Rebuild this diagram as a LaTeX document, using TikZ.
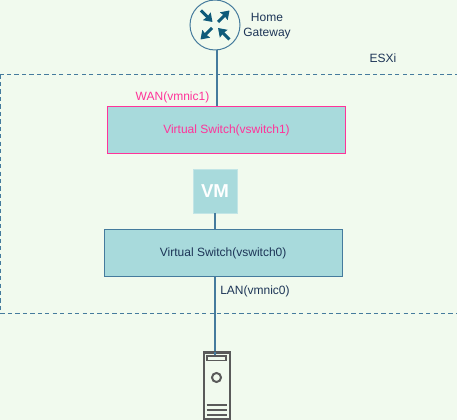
\documentclass[tikz,border=0pt]{standalone}
\usepackage{fontspec}
\setmainfont{Liberation Sans}
\definecolor{bgGreen}{HTML}{F1FAEE}
\definecolor{boxTeal}{HTML}{A8DADC}
\definecolor{lineBlue}{HTML}{457B9D}
\definecolor{textNavy}{HTML}{1D3557}
\definecolor{hotPink}{HTML}{FF3399}
\definecolor{iconBlue}{HTML}{0F5B7A}
\definecolor{serverGray}{HTML}{5A5A5A}
\tikzset{
  switchbox/.style={draw=lineBlue,fill=boxTeal,line width=0.75pt,minimum width=178.5pt,minimum height=35.5pt,inner sep=0pt,text=textNavy,font=\fontsize{9}{11}\selectfont},
  label/.style={text=textNavy,inner sep=0pt,align=center,font=\fontsize{9}{11}\selectfont},
  link/.style={draw=lineBlue,line width=1.5pt},
  routerarrow/.style={-{Stealth[length=6pt,width=8pt,inset=0.5pt]},draw=iconBlue,line width=2.2pt},
}
\usetikzlibrary{arrows.meta}
\begin{document}
\begin{tikzpicture}[x=0.75pt,y=-0.75pt]
  \useasboundingbox[fill=bgGreen] (0,0) rectangle (457,420);
  \draw[lineBlue,dash pattern=on 3.2pt off 2.4pt,line width=0.75pt] (0.5,74.5) rectangle (457.5,313.5);
  \coordinate (serverTop) at (215,355);
  \coordinate (routerLand) at (216.5,50);
  \node[switchbox,draw=hotPink,text=hotPink,line width=1pt] (vswitchOne) at (226.5,130) {Virtual Switch(vswitch1)};
  \node[switchbox] (vswitchZero) at (223.2,253.2) {Virtual Switch(vswitch0)};
  \node[draw=boxTeal!70!white,fill=boxTeal,minimum width=33pt,minimum height=33pt,inner sep=0pt,text=white,font=\fontsize{14}{16}\selectfont\bfseries] (vm) at (215,191) {VM};
  \node[circle,draw=lineBlue,fill=bgGreen,line width=0.75pt,minimum size=37.5pt,inner sep=0pt] (router) at (215,25) {};
  \draw[link] (router.south -| routerLand) -- (vswitchOne.north -| routerLand);
  \draw[link] (vm.south) -- (vm.south |- vswitchZero.north);
  \draw[link] (vswitchZero.south -| serverTop) -- (serverTop);
  \draw[routerarrow] (201,10.5) -- (212.5,22);
  \draw[routerarrow] (218,22) -- (229.5,10.5);
  \draw[routerarrow] (212,28) -- (200.5,39.5);
  \draw[routerarrow] (229.5,39.5) -- (218,28);
  % server
  \draw[serverGray,fill=bgGreen,line width=1.5pt] (203.5,352.5) rectangle (229.5,418.5);
  \draw[serverGray,line width=1.1pt] (207,356) rectangle (226,360.5);
  \draw[serverGray,line width=1.5pt] (216.5,377.5) circle (4.5);
  \foreach \y in {405,410,415}
    \draw[serverGray,line width=1.4pt] (206.5,\y) -- (227,\y);
  \draw[link] (215,352) -- (serverTop);
  \node[label] (homeLabel) at (267,26) {Home\\Gateway};
  \node[label] (esxiLabel) at (383,58.5) {ESXi};
  \node[label,text=hotPink] (wanLabel) at (172.5,97) {WAN(vmnic1)};
  \node[label,anchor=west] (lanLabel) at (220,291.5) {LAN(vmnic0)};
\end{tikzpicture}
\end{document}
